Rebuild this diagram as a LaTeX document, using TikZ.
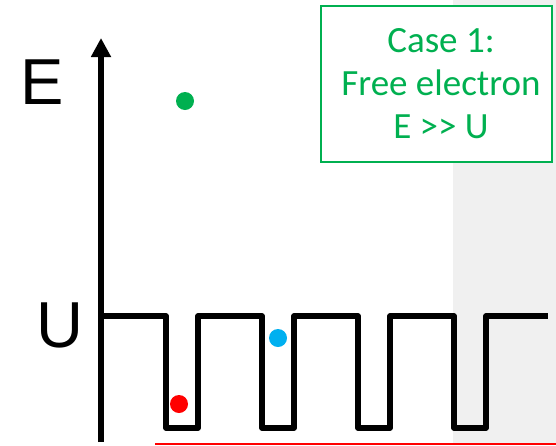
\documentclass[tikz,border=0pt]{standalone}
\usepackage{fontspec}
\setmainfont{Liberation Sans}
\newfontfamily\calibrifont{Carlito}
\usepackage{tikz}
\usetikzlibrary{arrows.meta}
\definecolor{officegreen}{HTML}{00B050}
\definecolor{skyblue}{HTML}{00B0F0}
\definecolor{panelgray}{HTML}{F0F0F0}

\begin{document}
\begin{tikzpicture}[
    x=1pt, y=-1pt,
    axis/.style={line width=5.5pt, -{Triangle[width=19pt, length=19pt]}},
    well/.style={line width=5.5pt, line join=round},
    dot/.style={circle, inner sep=0pt, minimum size=18pt},
    axislabel/.style={font=\fontsize{65}{65}\selectfont, inner sep=0pt},
    casebox/.style={rectangle, draw=officegreen, fill=white, line width=1.8pt, minimum width=231pt, minimum height=156pt},
    casetext/.style={text=officegreen, align=center, font=\calibrifont\fontsize{37}{43}\selectfont, inner sep=0pt},
]
\useasboundingbox (0,0) rectangle (556,445);

% Shaded strip
\fill[panelgray] (453,0) rectangle (556,445);

% Energy axis
\draw[axis] (101,442) -- (101,38);
\node[axislabel] (E) at (42,82) {E};
\node[axislabel] (U) at (60,325) {U};

% Periodic wells
\draw[well] (101,316)
    \foreach \x in {166,262,358,454} { -- (\x,316) -- (\x,428) -- (\x+32,428) -- (\x+32,316) }
    -- (548,316);
\draw[red, line width=1.5pt] (155,444) -- (556,444);

% Electrons
\node[dot, fill=officegreen] (free) at (185,101) {};
\node[dot, fill=skyblue] (near) at (278,338) {};
\node[dot, fill=red] (bound) at (179,404) {};

% Case label
\node[casebox] (box) at (436.5,84) {};
\node[casetext, xshift=4.5pt] (case) at (box.center) {Case 1:\\Free electron\\E >> U};

\end{tikzpicture}
\end{document}
